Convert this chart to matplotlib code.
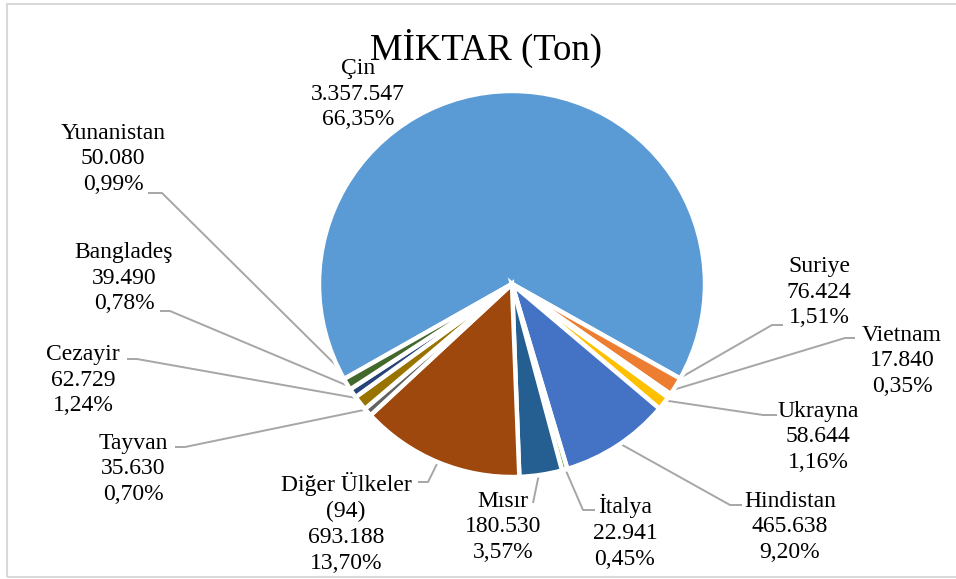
import numpy as np
import matplotlib.pyplot as plt
from matplotlib.patches import Rectangle

countries = ["Çin", "Suriye", "Vietnam", "Ukrayna", "Hindistan", "İtalya", "Mısır",
             "Diğer Ülkeler\n(94)", "Tayvan", "Cezayir", "Bangladeş", "Yunanistan"]
tons = [3357547, 76424, 17840, 58644, 465638, 22941, 180530, 693188,
        35630, 62729, 39490, 50080]
colors = ["#5B9BD5", "#ED7D31", "#A5A5A5", "#FFC000", "#4472C4", "#70AD47",
          "#255E91", "#9E480E", "#636363", "#997300", "#264478", "#43682B"]

# canvas in pixels, pie centre / radius
W, H = 956, 579
CX, CY, R = 512, 284, 193

# label centres (pixel coords, y from top)
label_xy = [(358, 94), (819, 292), (902, 361), (818, 437), (790, 527), (625, 532),
            (503, 527), (346, 523), (133, 469), (83, 380), (124, 278), (113, 159)]
# leader lines: text-side x, elbow x, y  (None = no line)
leaders = [None, (783, 772, 325), (855, 845, 338), (777, 763, 415), (742, 730, 505),
           (595, 583, 510), (533, 533, 503), (418, 428, 482), (175, 185, 447),
           (127, 137, 359), (160, 170, 311), (148, 162, 193)]


def py(y):
    return H - y


plt.rcParams['font.family'] = ['Liberation Serif', 'DejaVu Serif']

fig = plt.figure(figsize=(W / 100, H / 100), dpi=100)
ax = fig.add_axes([0, 0, 1, 1])

total = sum(tons)
wedges, _ = ax.pie(tons, colors=colors, startangle=209.5, counterclock=False,
                   center=(CX, py(CY)), radius=R, explode=[0.016] * len(tons),
                   wedgeprops=dict(edgecolor='white', linewidth=3.2))
ax.set_xlim(0, W)
ax.set_ylim(0, H)
ax.set_aspect('equal')
ax.axis('off')

for i, (name, v) in enumerate(zip(countries, tons)):
    pct = f"{100 * v / total:.2f}".replace('.', ',') + '%'
    val = f"{v:,}".replace(',', '.')
    x, y = label_xy[i]
    ax.text(x, py(y), f"{name}\n{val}\n{pct}", ha='center', va='center',
            fontsize=17, linespacing=1.3, color='#000000')
    if leaders[i] is None:
        continue
    # leader line ends on the slice rim at its middle angle
    w = wedges[i]
    mid = np.deg2rad((w.theta1 + w.theta2) / 2)
    ex = w.center[0] + R * 0.97 * np.cos(mid)
    ey = w.center[1] + R * 0.97 * np.sin(mid)
    x0, x1, yl = leaders[i]
    ax.plot([x0, x1, ex], [py(yl), py(yl), ey], color='#A6A6A6', lw=1.4,
            solid_capstyle='butt', zorder=0.5)

ax.text(486, py(60), "MİKTAR (Ton)", ha='center', va='baseline', fontsize=26.5)

ax.add_patch(Rectangle((7, py(577)), 960, 573, fill=False, edgecolor='#D9D9D9',
                       lw=1.5, clip_on=False))

plt.savefig('out.png', dpi=100)
